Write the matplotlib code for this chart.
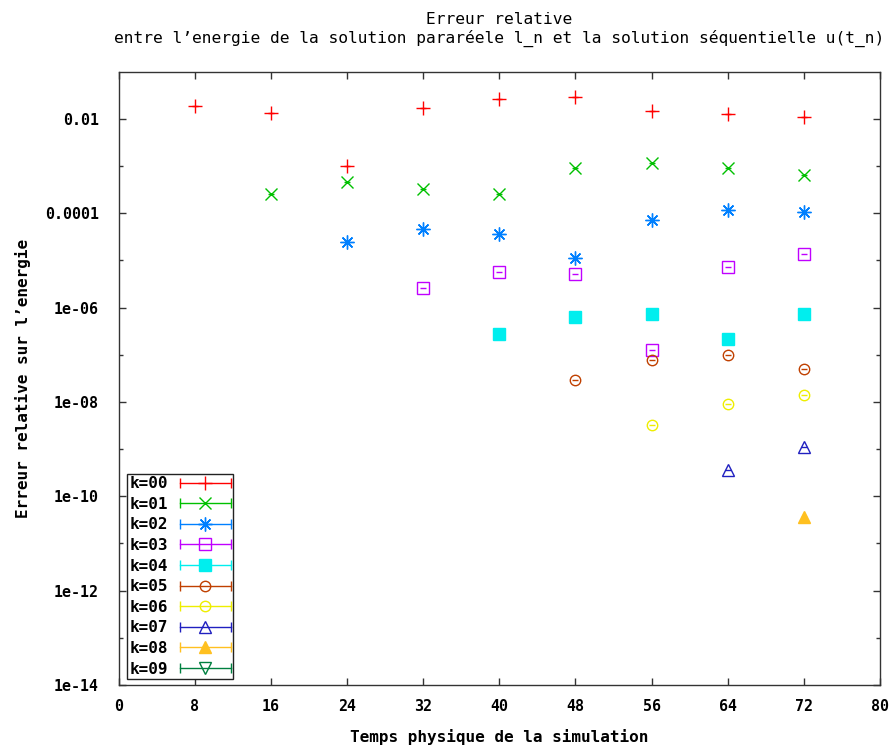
import matplotlib
matplotlib.use("Agg")
import matplotlib.pyplot as plt
from matplotlib.lines import Line2D
from matplotlib.legend_handler import HandlerBase

# ---- data ----
labels = ["k=00", "k=01", "k=02", "k=03", "k=04", "k=05", "k=06", "k=07", "k=08", "k=09"]
colors = ["#ff0000", "#00c000", "#0080ff", "#c000ff", "#00eeee",
          "#c04000", "#eeee00", "#2020c0", "#ffc020", "#008040"]

x_k00 = [8, 16, 24, 32, 40, 48, 56, 64, 72]
y_k00 = [0.0184, 0.0134, 0.00100, 0.0171, 0.0268, 0.0292, 0.0145, 0.0128, 0.0108]
x_k01 = [16, 24, 32, 40, 48, 56, 64, 72]
y_k01 = [2.5e-4, 4.7e-4, 3.2e-4, 2.5e-4, 9.2e-4, 1.17e-3, 9.2e-4, 6.6e-4]
x_k02 = [24, 32, 40, 48, 56, 64, 72]
y_k02 = [2.5e-5, 4.6e-5, 3.6e-5, 1.15e-5, 7.2e-5, 1.15e-4, 1.06e-4]
x_k03 = [32, 40, 48, 56, 64, 72]
y_k03 = [2.55e-6, 5.55e-6, 5.1e-6, 1.26e-7, 7.4e-6, 1.35e-5]
x_k04 = [40, 48, 56, 64, 72]
y_k04 = [2.75e-7, 6.2e-7, 7.3e-7, 2.16e-7, 7.3e-7]
x_k05 = [48, 56, 64, 72]
y_k05 = [2.95e-8, 7.8e-8, 1.0e-7, 5.0e-8]
x_k06 = [56, 64, 72]
y_k06 = [3.2e-9, 9.1e-9, 1.37e-8]
x_k07 = [64, 72]
y_k07 = [3.55e-10, 1.1e-9]
x_k08 = [72]
y_k08 = [3.67e-11]
x_k09 = []
y_k09 = []

xs = [x_k00, x_k01, x_k02, x_k03, x_k04, x_k05, x_k06, x_k07, x_k08, x_k09]
ys = [y_k00, y_k01, y_k02, y_k03, y_k04, y_k05, y_k06, y_k07, y_k08, y_k09]

xticks = [0, 8, 16, 24, 32, 40, 48, 56, 64, 72, 80]
yticks = [1e-14, 1e-12, 1e-10, 1e-8, 1e-6, 1e-4, 1e-2]
ytick_labels = ["1e-14", "1e-12", "1e-10", "1e-08", "1e-06", "0.0001", "0.01"]
yminor = [1e-13, 1e-11, 1e-9, 1e-7, 1e-5, 1e-3]

title = "Erreur relative\nentre l\u2019energie de la solution pararéele l_n et la solution séquentielle u(t_n)"
xlabel = "Temps physique de la simulation"
ylabel = "Erreur relative sur l\u2019energie"

# ---- styles ----
markers = ["+", "x", (8, 2, 0), "s", "s", "o", "o", "^", "^", "v"]
filled = [True, True, True, False, True, False, False, False, True, False]
msizes = [10, 9, 10, 9, 9, 7.5, 7.5, 9, 9, 9]

MONO = ["DejaVu Sans Mono"]

fig = plt.figure(figsize=(8.93, 7.47), dpi=100)
L, R, T, B = 118.5, 880, 71.7, 685
W, H = 893, 747
ax = fig.add_axes([L / W, 1 - B / H, (R - L) / W, (B - T) / H])

for i in range(len(labels)):
    if len(xs[i]) == 0:
        continue
    mfc = colors[i] if filled[i] else "none"
    ax.plot(xs[i], ys[i], linestyle="none", marker=markers[i], markersize=msizes[i],
            markeredgecolor=colors[i], markerfacecolor=mfc, markeredgewidth=1.0, zorder=3)
    # tiny error-bar caps drawn by gnuplot at each point
    ax.plot(xs[i], ys[i], linestyle="none", marker="_", markersize=4.5,
            markeredgecolor=colors[i], markeredgewidth=1.0, zorder=4)

ax.set_yscale("log")
ax.set_xlim(0, 80)
ax.set_ylim(1e-14, 1e-1)
ax.set_xticks(xticks)
ax.set_xticklabels([str(t) for t in xticks])
ax.set_yticks(yticks)
ax.set_yticklabels(ytick_labels)
ax.set_yticks(yminor, minor=True)
ax.set_yticklabels([], minor=True)
ax.tick_params(which="both", direction="in", top=True, right=True, width=1.0, color="#333333")
ax.tick_params(which="major", length=5)
ax.tick_params(which="minor", length=3)
ax.tick_params(axis="y", which="major", pad=14)
ax.tick_params(axis="x", which="major", pad=10)
for lab in ax.get_xticklabels() + ax.get_yticklabels():
    lab.set_family(MONO)
    lab.set_fontweight("bold")
    lab.set_fontsize(10.8)
for s in ax.spines.values():
    s.set_color("#333333")
    s.set_linewidth(1.0)

ax.set_title(title, family=MONO, fontsize=11.7, pad=21, linespacing=1.2)
ax.set_xlabel(xlabel, family=MONO, fontsize=11.5, fontweight="bold", labelpad=11)
ax.set_ylabel(ylabel, family=MONO, fontsize=11.5, fontweight="bold")
ax.yaxis.set_label_coords(-0.115, 0.5)


class GnuHandler(HandlerBase):
    def create_artists(self, legend, orig_handle, xdescent, ydescent, width, height,
                       fontsize, trans):
        yc = height / 2 - ydescent
        c = orig_handle.get_color()
        line = Line2D([-xdescent, width - xdescent], [yc, yc], color=c, lw=1.0,
                      marker="|", markersize=7, markeredgewidth=1.0, transform=trans)
        mk = Line2D([(width / 2) - xdescent], [yc], linestyle="none",
                    marker=orig_handle.get_marker(), markersize=orig_handle.get_markersize(),
                    markeredgecolor=c, markerfacecolor=orig_handle.get_markerfacecolor(),
                    markeredgewidth=1.0, transform=trans)
        return [line, mk]


handles = []
for i in range(len(labels)):
    mfc = colors[i] if filled[i] else "none"
    handles.append(Line2D([], [], color=colors[i], marker=markers[i], markersize=msizes[i],
                          markerfacecolor=mfc))

leg = ax.legend(handles, labels, loc="lower left", bbox_to_anchor=(0.011, 0.0098),
                borderaxespad=0, markerfirst=False, fancybox=False, framealpha=1,
                edgecolor="#222222", handler_map={Line2D: GnuHandler()},
                prop={"family": MONO, "weight": "bold", "size": 11.5},
                handlelength=3.2, handletextpad=0.75, labelspacing=0.35,
                borderpad=0.15)
leg.get_frame().set_linewidth(1.0)

fig.savefig("out.png", dpi=100)
